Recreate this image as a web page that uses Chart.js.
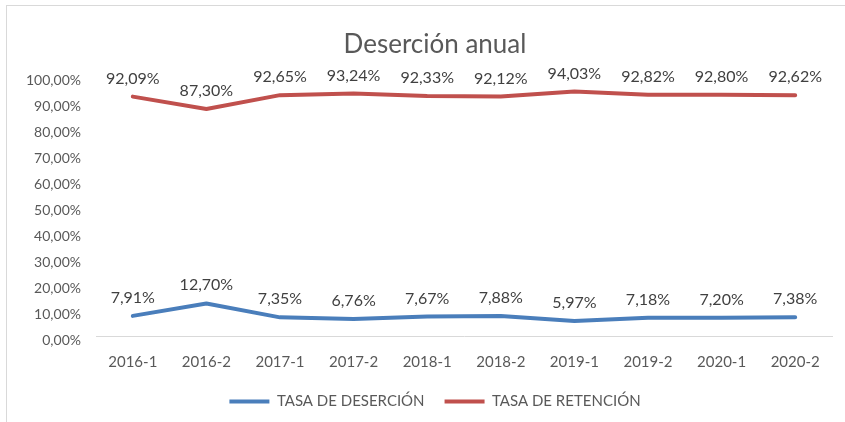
<!DOCTYPE html>
<html>
<head>
<meta charset="utf-8">
<script src="https://cdn.jsdelivr.net/npm/chart.js@4"></script>
<style>
  html, body { margin: 0; padding: 0; background: #ffffff; overflow: hidden; }
  #wrap { width: 845px; height: 422px; overflow: hidden; }
</style>
</head>
<body>
<div id="wrap"><canvas id="c" width="870" height="422"></canvas></div>
<script>
const categories = ['2016-1','2016-2','2017-1','2017-2','2018-1','2018-2','2019-1','2019-2','2020-1','2020-2'];
const tasaDesercion = [7.91, 12.70, 7.35, 6.76, 7.67, 7.88, 5.97, 7.18, 7.20, 7.38];
const tasaRetencion = [92.09, 87.30, 92.65, 93.24, 92.33, 92.12, 94.03, 92.82, 92.80, 92.62];
const seriesNames = ['TASA DE DESERCIÓN', 'TASA DE RETENCIÓN'];
const chartTitle = 'Deserción anual';
const yTickValues = [0,10,20,30,40,50,60,70,80,90,100];

const FONT = 'Lato, "Open Sans", sans-serif';
const BLUE = '#4A7EBB';
const RED = '#C0504D';
const TEXT = '#595959';

function fmtPct(v) { return v.toFixed(2).replace('.', ',') + '%'; }

const frame = {
  id: 'frame',
  beforeDraw(chart) {
    const ctx = chart.ctx;
    ctx.save();
    ctx.fillStyle = '#ffffff';
    ctx.fillRect(0, 0, chart.width, chart.height);
    ctx.strokeStyle = '#D9D9D9';
    ctx.lineWidth = 1;
    ctx.strokeRect(6.5, 5.5, 900, 500);
    ctx.restore();
  }
};

const dataLabels = {
  id: 'dataLabels',
  afterDatasetsDraw(chart) {
    const ctx = chart.ctx;
    ctx.save();
    ctx.font = '16px ' + FONT;
    ctx.fillStyle = '#404040';
    ctx.textAlign = 'center';
    ctx.textBaseline = 'alphabetic';
    chart.data.datasets.forEach((ds, di) => {
      const meta = chart.getDatasetMeta(di);
      meta.data.forEach((pt, i) => {
        ctx.fillText(fmtPct(ds.data[i]), pt.x, pt.y - 13);
      });
    });
    ctx.restore();
  }
};

new Chart(document.getElementById('c'), {
  type: 'line',
  data: {
    labels: categories,
    datasets: [
      { label: seriesNames[0], data: tasaDesercion, borderColor: BLUE, backgroundColor: BLUE,
        borderWidth: 4, pointRadius: 0, tension: 0, borderJoinStyle: 'round', borderCapStyle: 'round' },
      { label: seriesNames[1], data: tasaRetencion, borderColor: RED, backgroundColor: RED,
        borderWidth: 4, pointRadius: 0, tension: 0, borderJoinStyle: 'round', borderCapStyle: 'round' }
    ]
  },
  options: {
    responsive: false,
    animation: false,
    events: [],
    layout: { padding: { left: 0, right: 0, top: 0, bottom: 3 } },
    plugins: {
      title: {
        display: true, text: chartTitle, color: TEXT,
        font: { family: FONT, size: 26, weight: 'normal' },
        padding: { top: 29, bottom: 15.8 }
      },
      legend: {
        display: true, position: 'bottom',
        labels: {
          color: TEXT, boxWidth: 40, boxHeight: 4, padding: 20,
          font: { family: FONT, size: 15 },
          generateLabels(chart) {
            return chart.data.datasets.map((ds, i) => ({
              text: ds.label, fillStyle: ds.borderColor, strokeStyle: ds.borderColor,
              lineWidth: 0, hidden: false, datasetIndex: i, fontColor: TEXT
            }));
          }
        }
      },
      tooltip: { enabled: false }
    },
    scales: {
      x: {
        offset: true,
        grid: { display: false, drawTicks: false },
        border: { display: true, color: '#D9D9D9', width: 1 },
        ticks: { color: TEXT, font: { family: FONT, size: 15 }, padding: 17, maxRotation: 0 },
        afterFit(s) { s.height = 37.5; }
      },
      y: {
        min: 0, max: 100,
        grid: { display: false, drawTicks: false },
        border: { display: false },
        afterBuildTicks(s) { s.ticks = yTickValues.map(v => ({ value: v })); },
        ticks: { color: TEXT, font: { family: FONT, size: 14 }, padding: 15, labelOffset: 4,
                 callback: (v) => fmtPct(v) },
        afterFit(s) { s.width = 96; }
      },
      y2: {
        type: 'linear', position: 'right', display: true, min: 0, max: 100,
        grid: { display: false, drawTicks: false },
        border: { display: false },
        ticks: { display: false },
        afterFit(s) { s.width = 38; }
      }
    }
  },
  plugins: [frame, dataLabels]
});
</script>
</body>
</html>
